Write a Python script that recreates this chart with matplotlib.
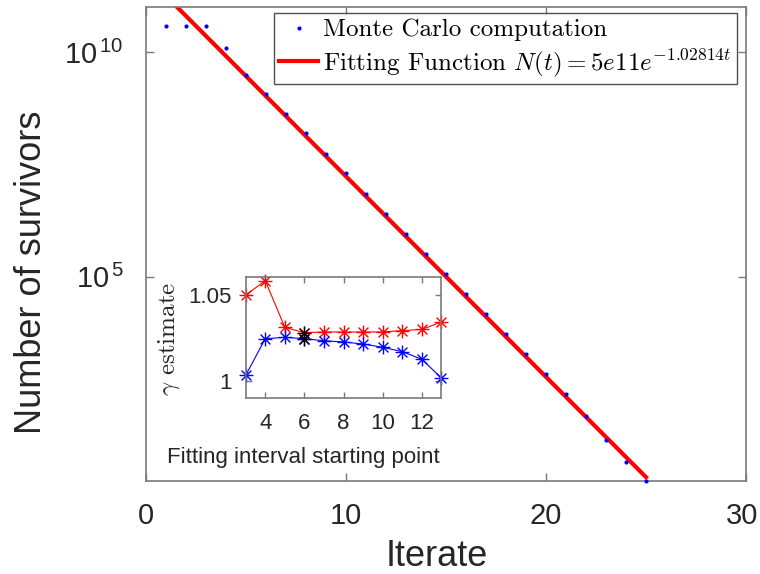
import matplotlib
matplotlib.use("Agg")
import matplotlib.pyplot as plt
import matplotlib.transforms as mtransforms
import numpy as np
from matplotlib.font_manager import FontProperties
from matplotlib.path import Path

# ---------------- data ----------------
iterates = [1, 2, 3, 4, 5, 6, 7, 8, 9, 10, 11, 12, 13, 14, 15, 16, 17, 18, 19, 20, 21, 22, 23, 24, 25]
log10_survivors = [10.59, 10.59, 10.59, 10.10, 9.50, 9.08, 8.63, 8.19, 7.74, 7.30, 6.85, 6.40, 5.96,
                   5.51, 5.06, 4.61, 4.16, 3.72, 3.28, 2.84, 2.38, 1.89, 1.37, 0.88, 0.45]
fit_A = 5e11
fit_gamma = 1.02814
fit_t = [0, 25]

inset_start = [3, 4, 5, 6, 7, 8, 9, 10, 11, 12, 13]
gamma_upper = [1.0500, 1.0583, 1.0312, 1.0281, 1.0285, 1.0285, 1.0285, 1.0285, 1.0293, 1.0300, 1.0343]
gamma_lower = [1.0033, 1.0246, 1.0254, 1.0246, 1.0234, 1.0227, 1.0215, 1.0196, 1.0171, 1.0126, 1.0017]
chosen_start = 6

main_xticks = [0, 10, 20, 30]
main_yticks = [1e5, 1e10]
main_yticklabels = [r'$10^{\,5}$', r'$10^{\,10}$']
inset_xticks = [4, 6, 8, 10, 12]
inset_yticks = [1.0, 1.05]
inset_yticklabels = ['1', '1.05']

# ---------------- style ----------------
plt.rcParams['font.family'] = ['Liberation Sans', 'DejaVu Sans']
plt.rcParams['mathtext.fontset'] = 'custom'
plt.rcParams['mathtext.rm'] = 'Liberation Sans'
plt.rcParams['mathtext.it'] = 'Liberation Sans:italic'
txt = '#262626'
spine = '#7a7a7a'

# MATLAB-like asterisk marker (plus + cross)
d = 0.7071
ast = Path([(-1, 0), (1, 0), (0, -1), (0, 1), (-d, -d), (d, d), (-d, d), (d, -d)],
           [Path.MOVETO, Path.LINETO] * 4)

fig = plt.figure(figsize=(7.6, 5.74), dpi=100)
H = 481 - 7.3
ax = fig.add_axes([146/760, 1-481/574, 600/760, H/574])

t = np.array(iterates)
N = 10.0 ** np.array(log10_survivors)
ax.plot(t, N, linestyle='none', marker='o', markersize=3, color='#0000ff',
        markeredgewidth=0, label='Monte Carlo computation', zorder=3, clip_on=False)
ft = np.array(fit_t, dtype=float)
tt = np.linspace(ft[0], ft[1], 200)
ax.plot(tt, fit_A * np.exp(-fit_gamma * tt), color='#ff0000', linewidth=3,
        label=r'Fitting Function $N(t) = 5e11e^{-1.02814t}$', zorder=2)

ax.set_yscale('log')
ax.set_xlim(0, 30)
ax.set_ylim(10 ** 0.45, 1e11)
ax.set_xticks(main_xticks)
ax.set_yticks(main_yticks)
ax.set_yticklabels(main_yticklabels)
ax.yaxis.set_minor_locator(matplotlib.ticker.NullLocator())
ax.tick_params(direction='in', length=6, width=1.0, colors=spine, labelcolor=txt,
               labelsize=21, top=True, right=True)
ax.tick_params(axis='x', pad=15)
ax.tick_params(axis='y', pad=16)
# keep the last x tick label inside the canvas
last = ax.get_xticklabels()[-1]
last.set_transform(last.get_transform() + mtransforms.ScaledTranslation(-3/72, 0, fig.dpi_scale_trans))
for s in ax.spines.values():
    s.set_color(spine)
    s.set_linewidth(1.2)
ax.set_xlabel('Iterate', fontsize=26, color=txt)
ax.set_ylabel('Number of survivors', fontsize=26, color=txt)
ax.xaxis.label.set_va('baseline')
ax.xaxis.set_label_coords((437-146)/600, (481-566)/H)
ax.yaxis.label.set_va('baseline')
ax.yaxis.set_label_coords((41-146)/600, (481-272.5)/H)

legprop = FontProperties(family=['cmr10', 'DejaVu Serif'], size=18, math_fontfamily='cm')
leg = ax.legend(loc='upper right', prop=legprop, frameon=True, fancybox=False,
                edgecolor='#262626', borderpad=0.22, handlelength=1.55, handletextpad=0.2,
                labelspacing=0.22, borderaxespad=0, markerscale=1.0,
                bbox_to_anchor=(737/760, 1-13.3/574), bbox_transform=fig.transFigure)
leg.get_frame().set_linewidth(1.0)

# ---------------- inset ----------------
IH = 397.7 - 277.3
IW = 441.5 - 245.7
ins = fig.add_axes([245.7/760, 1-397.7/574, IW/760, IH/574])
mk = dict(marker=ast, markersize=10, markerfacecolor='none', markeredgewidth=1.0, clip_on=False)
ins.plot(inset_start, gamma_upper, color='#ff0000', linewidth=0.8, **mk)
ins.plot(inset_start, gamma_lower, color='#0000ff', linewidth=0.8, **mk)
ci = inset_start.index(chosen_start)
ins.plot([chosen_start, chosen_start], [gamma_upper[ci], gamma_lower[ci]], linestyle='none',
         color='black', zorder=5, **mk)
ins.set_xlim(3, 13)
ins.set_ylim(0.9903, 1.0603)
ins.set_xticks(inset_xticks)
ins.set_yticks(inset_yticks)
ins.set_yticklabels(inset_yticklabels)
ins.tick_params(direction='in', length=4, width=1.0, colors=spine, labelcolor=txt,
                labelsize=16, top=True, right=True)
ins.tick_params(axis='x', pad=11)
ins.tick_params(axis='y', pad=10)
for s in ins.spines.values():
    s.set_color(spine)
    s.set_linewidth(1.2)
ins.set_xlabel('Fitting interval starting point', fontsize=16, color=txt)
ins.xaxis.label.set_va('baseline')
ins.xaxis.set_label_coords((303-245.7)/IW, (397.7-463.3)/IH)
gprop = FontProperties(family=['cmr10', 'DejaVu Serif'], size=18, math_fontfamily='cm')
ins.set_ylabel(r'$\gamma$ estimate', fontproperties=gprop, color=txt)
ins.yaxis.label.set_va('baseline')
ins.yaxis.set_label_coords((174-245.7)/IW, (397.7-339)/IH)

fig.savefig('out.png', dpi=100)
